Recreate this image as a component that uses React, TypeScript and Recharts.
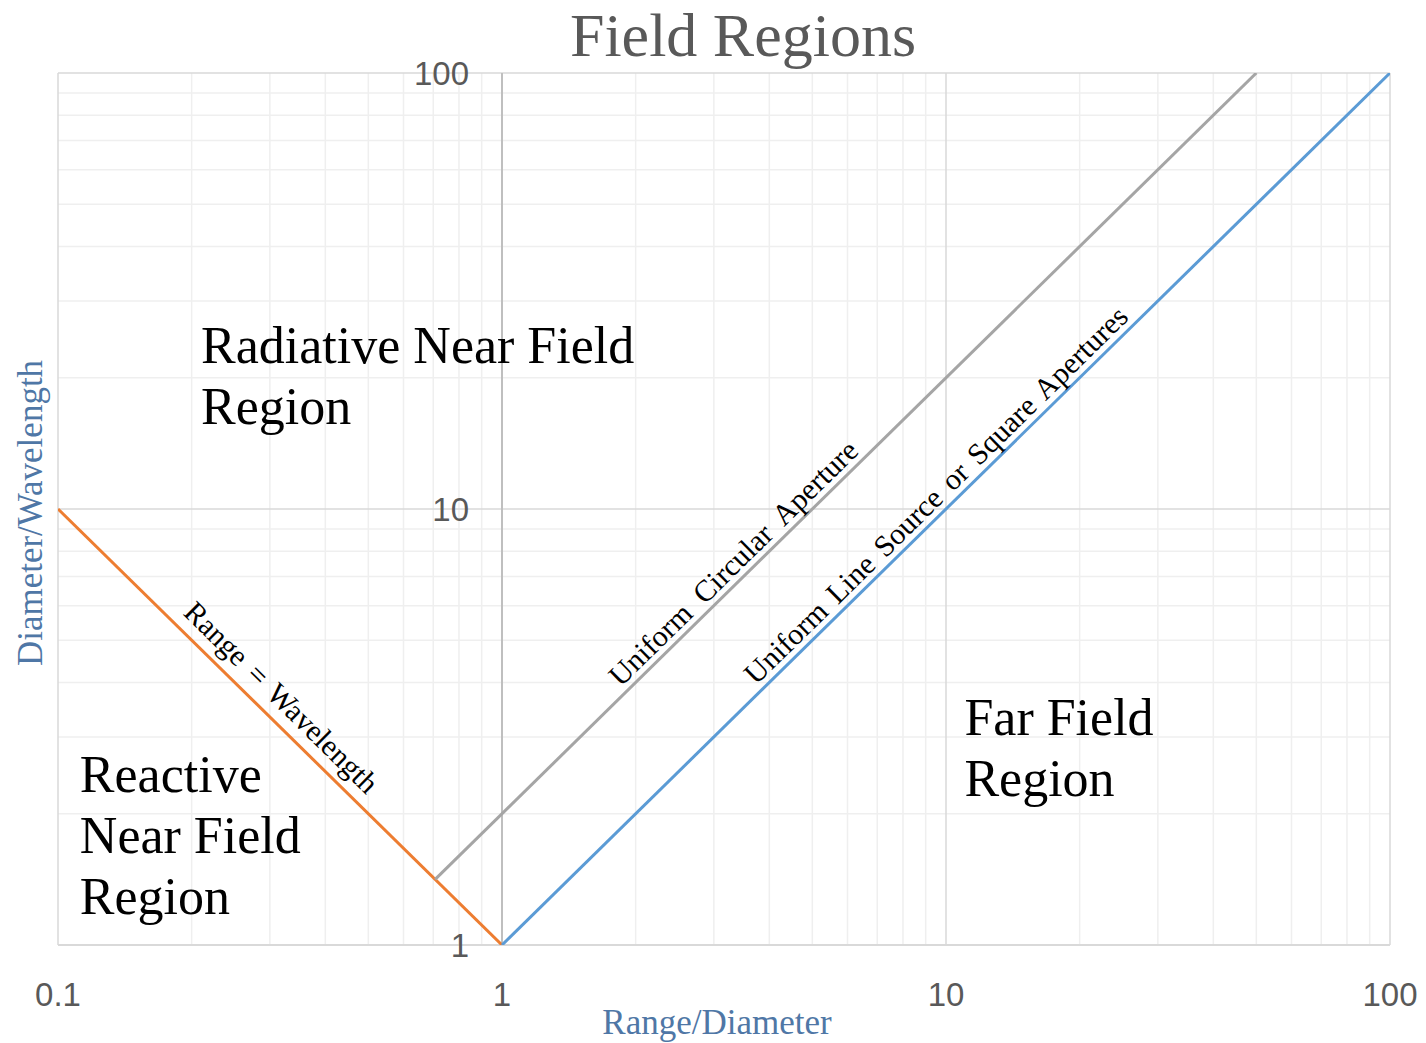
import { LineChart, Line, XAxis, YAxis, ReferenceLine, ReferenceDot } from 'recharts';

// boundary lines
const reactiveBoundary = [
  { x: 0.1, y: 10 },
  { x: 1, y: 1 },
];
const circularAperture = [
  { x: 0.707, y: 1.414 },
  { x: 50, y: 100 },
];
const lineSourceAperture = [
  { x: 1, y: 1 },
  { x: 100, y: 100 },
];

const xTicks = [0.1, 1, 10, 100];
const yTicks = [1, 10, 100];
const xMinor = [0.2, 0.3, 0.4, 0.5, 0.6, 0.7, 0.8, 0.9, 2, 3, 4, 5, 6, 7, 8, 9, 20, 30, 40, 50, 60, 70, 80, 90];
const yMinor = [2, 3, 4, 5, 6, 7, 8, 9, 20, 30, 40, 50, 60, 70, 80, 90];

const regionLabels = [
  { x: 0.21, y: 21.6, lines: ['Radiative Near Field', 'Region'] },
  { x: 0.112, y: 2.24, lines: ['Reactive', 'Near Field', 'Region'] },
  { x: 11.0, y: 3.03, lines: ['Far Field', 'Region'] },
];

const lineLabels = [
  { x: 0.294, y: 3.4, text: 'Range = Wavelength', angle: 44.5, gap: 4, dy: -12 },
  { x: 3.53, y: 7.05, text: 'Uniform Circular Aperture', angle: -44.5, gap: 7, dy: -7 },
  { x: 10.1, y: 10.1, text: 'Uniform Line Source or Square Apertures', angle: -44.5, gap: 4, dy: -7 },
];

const SERIF = "'Liberation Serif', 'Times New Roman', serif";
const SANS = "'Liberation Sans', Arial, sans-serif";
const TITLE_BLUE = '#4f77a6';

const XTick = ({ x, y, payload }: any) => (
  <text x={x} y={y + 61} textAnchor="middle" fontFamily={SANS} fontSize={33} fill="#595959">
    {payload.value}
  </text>
);

const XTitle = (p: any) => {
  const vb = p.viewBox || { x: 58, y: 945, width: 1332, height: 98 };
  return (
    <text x={vb.x + vb.width / 2 - 7} y={vb.y + 89} textAnchor="middle" fontFamily={SERIF} fontSize={35} fill={TITLE_BLUE}>
      Range/Diameter
    </text>
  );
};

const YTitle = (p: any) => {
  const vb = p.viewBox || { x: 0, y: 73, width: 58, height: 872 };
  const cx = vb.x + 42;
  const cy = vb.y + vb.height / 2 + 4;
  return (
    <text x={cx} y={cy} transform={`rotate(-90, ${cx}, ${cy})`} textAnchor="middle" fontFamily={SERIF} fontSize={35} fill={TITLE_BLUE}>
      Diameter/Wavelength
    </text>
  );
};

export default function App() {
  return (
    <div style={{ position: 'absolute', left: 0, top: 0, width: 1426, height: 1043, background: '#fff' }}>
      <div
        style={{
          position: 'absolute',
          left: 743,
          top: 4,
          transform: 'translateX(-50%)',
          fontFamily: SERIF,
          fontSize: 62,
          lineHeight: '62px',
          color: '#595959',
          whiteSpace: 'nowrap',
        }}
      >
        Field Regions
      </div>
      <LineChart width={1426} height={1043} margin={{ top: 73, right: 36, bottom: 0, left: 0 }}>
        <XAxis
          dataKey="x"
          type="number"
          scale="log"
          domain={[0.1, 100]}
          allowDataOverflow
          ticks={xTicks}
          tick={<XTick />}
          tickLine={false}
          axisLine={false}
          tickSize={0}
          tickMargin={0}
          height={98}
          interval={0}
          label={XTitle}
        />
        <YAxis
          dataKey="y"
          type="number"
          scale="log"
          domain={[1, 100]}
          allowDataOverflow
          ticks={yTicks}
          tick={false}
          tickLine={false}
          axisLine={false}
          width={58}
          label={YTitle}
        />
        {xMinor.map((v) => (
          <ReferenceLine key={'xm' + v} x={v} stroke="#efefef" strokeWidth={1.5} />
        ))}
        {yMinor.map((v) => (
          <ReferenceLine key={'ym' + v} y={v} stroke="#efefef" strokeWidth={1.5} />
        ))}
        <ReferenceLine x={0.1} stroke="#d9d9d9" strokeWidth={1.5} />
        <ReferenceLine x={10} stroke="#d9d9d9" strokeWidth={1.5} />
        <ReferenceLine x={100} stroke="#d9d9d9" strokeWidth={1.5} />
        <ReferenceLine y={1} stroke="#d9d9d9" strokeWidth={2} />
        <ReferenceLine y={10} stroke="#d9d9d9" strokeWidth={1.5} />
        <ReferenceLine y={100} stroke="#d9d9d9" strokeWidth={1.5} />
        <ReferenceLine x={1} stroke="#bfbfbf" strokeWidth={2} />
        <Line data={reactiveBoundary} dataKey="y" type="linear" stroke="#ed7d31" strokeWidth={3} dot={false} isAnimationActive={false} />
        <Line data={circularAperture} dataKey="y" type="linear" stroke="#a5a5a5" strokeWidth={3} dot={false} isAnimationActive={false} />
        <Line data={lineSourceAperture} dataKey="y" type="linear" stroke="#5b9bd5" strokeWidth={3} dot={false} isAnimationActive={false} />
        {yTicks.map((v) => (
          <ReferenceDot
            key={'yt' + v}
            x={1}
            y={v}
            r={1}
            ifOverflow="visible"
            shape={(p: any) => (
              <text x={p.cx - 33} y={p.cy} dy="0.36em" textAnchor="end" fontFamily={SANS} fontSize={33} fill="#595959">
                {v}
              </text>
            )}
          />
        ))}
        {regionLabels.map((r) => (
          <ReferenceDot
            key={r.lines[0]}
            x={r.x}
            y={r.y}
            r={1}
            ifOverflow="visible"
            shape={(p: any) => (
              <text x={p.cx} y={p.cy} fontFamily={SERIF} fontSize={52} fill="#000">
                {r.lines.map((l, i) => (
                  <tspan key={l} x={p.cx} dy={i === 0 ? 0 : 61}>
                    {l}
                  </tspan>
                ))}
              </text>
            )}
          />
        ))}
        {lineLabels.map((l) => (
          <ReferenceDot
            key={l.text}
            x={l.x}
            y={l.y}
            r={1}
            ifOverflow="visible"
            shape={(p: any) => (
              <text
                x={p.cx}
                y={p.cy}
                dy={l.dy}
                transform={`rotate(${l.angle}, ${p.cx}, ${p.cy})`}
                textAnchor="middle"
                fontFamily={SERIF}
                fontSize={30}
                fill="#000"
                style={{ wordSpacing: l.gap }}
              >
                {l.text}
              </text>
            )}
          />
        ))}
      </LineChart>
    </div>
  );
}
